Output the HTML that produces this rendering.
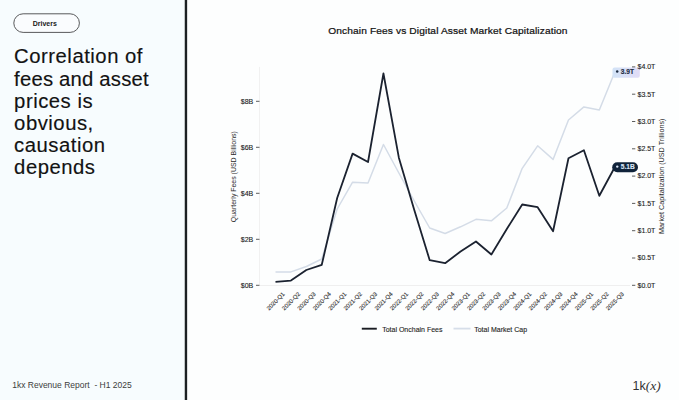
<!DOCTYPE html>
<html><head><meta charset="utf-8"><style>
html,body{margin:0;padding:0;background:#fdfefe;}
body{width:679px;height:400px;overflow:hidden;}
svg{display:block;font-family:"Liberation Sans",sans-serif;}
.h{font-size:19.5px;fill:#121212;letter-spacing:0.5px;stroke:#121212;stroke-width:0.15px;}
.foot{font-size:8.5px;fill:#3c3c3c;}
.title{font-size:9.7px;letter-spacing:0.12px;fill:#111;stroke:#111;stroke-width:0.22px;}
.tick{font-size:7px;fill:#222;stroke:#222;stroke-width:0.12px;}
.xt{font-size:5.9px;fill:#333;stroke:#333;stroke-width:0.12px;}
.al{fill:#2a2a2a;}
.lab{font-size:6.6px;font-weight:bold;stroke-width:0.15px;}
.leg{font-size:7px;fill:#262626;stroke:#262626;stroke-width:0.12px;}
.logo{font-size:12.5px;fill:#333;}
</style></head><body>
<svg width="679" height="400" viewBox="0 0 679 400">
<rect x="0" y="0" width="186" height="400" fill="#f7fcfe"/>
<rect x="184.75" y="0" width="2.4" height="400" fill="#1c2023"/>
<rect x="13.8" y="13.8" width="65.6" height="18.6" rx="9.3" fill="#fafcfe" stroke="#58595b" stroke-width="1"/>
<text x="44.8" y="25.8" font-size="7" font-weight="bold" fill="#1a1a1a" text-anchor="middle">Drivers</text>
<g transform="scale(1.04,1)">
<text x="13.56" y="63.4" class="h">Correlation of</text>
<text x="13.56" y="85.6" class="h" style="letter-spacing:0.2px">fees and asset</text>
<text x="13.56" y="107.8" class="h">prices is</text>
<text x="13.56" y="130.0" class="h">obvious,</text>
<text x="13.56" y="152.2" class="h">causation</text>
<text x="13.56" y="174.4" class="h">depends</text>
</g>
<text x="12.2" y="388.4" class="foot">1kx Revenue Report &#160;- H1 2025</text>
<text transform="translate(447.9,34) scale(1.05,1)" x="0" y="0" class="title" text-anchor="middle">Onchain Fees vs Digital Asset Market Capitalization</text>
<line x1="259.5" y1="66.9" x2="259.5" y2="285" stroke="#f1f1f1" stroke-width="1"/>
<line x1="260" y1="285.5" x2="630" y2="285.5" stroke="#efefef" stroke-width="1"/>
<line x1="256" y1="285.30" x2="259.5" y2="285.30" stroke="#333" stroke-width="0.8"/>
<text x="253.3" y="287.60" class="tick" text-anchor="end">$0B</text>
<line x1="256" y1="239.30" x2="259.5" y2="239.30" stroke="#333" stroke-width="0.8"/>
<text x="253.3" y="241.60" class="tick" text-anchor="end">$2B</text>
<line x1="256" y1="193.30" x2="259.5" y2="193.30" stroke="#333" stroke-width="0.8"/>
<text x="253.3" y="195.60" class="tick" text-anchor="end">$4B</text>
<line x1="256" y1="147.30" x2="259.5" y2="147.30" stroke="#333" stroke-width="0.8"/>
<text x="253.3" y="149.60" class="tick" text-anchor="end">$6B</text>
<line x1="256" y1="101.30" x2="259.5" y2="101.30" stroke="#333" stroke-width="0.8"/>
<text x="253.3" y="103.60" class="tick" text-anchor="end">$8B</text>
<text transform="translate(275.50,301) rotate(-45)" class="xt" text-anchor="middle" dy="2.2">2020-Q1</text>
<text transform="translate(290.92,301) rotate(-45)" class="xt" text-anchor="middle" dy="2.2">2020-Q2</text>
<text transform="translate(306.34,301) rotate(-45)" class="xt" text-anchor="middle" dy="2.2">2020-Q3</text>
<text transform="translate(321.76,301) rotate(-45)" class="xt" text-anchor="middle" dy="2.2">2020-Q4</text>
<text transform="translate(337.18,301) rotate(-45)" class="xt" text-anchor="middle" dy="2.2">2021-Q1</text>
<text transform="translate(352.60,301) rotate(-45)" class="xt" text-anchor="middle" dy="2.2">2021-Q2</text>
<text transform="translate(368.02,301) rotate(-45)" class="xt" text-anchor="middle" dy="2.2">2021-Q3</text>
<text transform="translate(383.44,301) rotate(-45)" class="xt" text-anchor="middle" dy="2.2">2021-Q4</text>
<text transform="translate(398.86,301) rotate(-45)" class="xt" text-anchor="middle" dy="2.2">2022-Q1</text>
<text transform="translate(414.28,301) rotate(-45)" class="xt" text-anchor="middle" dy="2.2">2022-Q2</text>
<text transform="translate(429.70,301) rotate(-45)" class="xt" text-anchor="middle" dy="2.2">2022-Q3</text>
<text transform="translate(445.12,301) rotate(-45)" class="xt" text-anchor="middle" dy="2.2">2022-Q4</text>
<text transform="translate(460.54,301) rotate(-45)" class="xt" text-anchor="middle" dy="2.2">2023-Q1</text>
<text transform="translate(475.96,301) rotate(-45)" class="xt" text-anchor="middle" dy="2.2">2023-Q2</text>
<text transform="translate(491.38,301) rotate(-45)" class="xt" text-anchor="middle" dy="2.2">2023-Q3</text>
<text transform="translate(506.80,301) rotate(-45)" class="xt" text-anchor="middle" dy="2.2">2023-Q4</text>
<text transform="translate(522.22,301) rotate(-45)" class="xt" text-anchor="middle" dy="2.2">2024-Q1</text>
<text transform="translate(537.64,301) rotate(-45)" class="xt" text-anchor="middle" dy="2.2">2024-Q2</text>
<text transform="translate(553.06,301) rotate(-45)" class="xt" text-anchor="middle" dy="2.2">2024-Q3</text>
<text transform="translate(568.48,301) rotate(-45)" class="xt" text-anchor="middle" dy="2.2">2024-Q4</text>
<text transform="translate(583.90,301) rotate(-45)" class="xt" text-anchor="middle" dy="2.2">2025-Q1</text>
<text transform="translate(599.32,301) rotate(-45)" class="xt" text-anchor="middle" dy="2.2">2025-Q2</text>
<text transform="translate(614.74,301) rotate(-45)" class="xt" text-anchor="middle" dy="2.2">2025-Q3</text>
<text transform="translate(236.4,176.7) rotate(-90)" class="al" font-size="6.95" text-anchor="middle">Quarterly Fees (USD Billions)</text>
<text transform="translate(663.6,176.2) rotate(-90)" class="al" font-size="7.2" text-anchor="middle">Market Capitalization (USD Trillions)</text>
<polyline points="275.50,272.10 290.92,271.90 306.34,266.50 321.76,259.00 337.18,209.00 352.60,182.20 368.02,183.00 383.44,144.50 398.86,173.00 414.28,201.00 429.70,228.00 445.12,233.50 460.54,226.80 475.96,219.30 491.38,220.80 506.80,208.00 522.22,168.30 537.64,145.80 553.06,159.40 568.48,120.00 583.90,106.90 599.32,110.00 614.74,72.30" fill="none" stroke="#d4dce7" stroke-width="1.5" stroke-linejoin="round" stroke-linecap="butt"/>
<polyline points="275.50,281.90 290.92,280.60 306.34,270.00 321.76,264.80 337.18,198.00 352.60,153.60 368.02,162.00 383.44,73.50 398.86,157.70 414.28,210.00 429.70,260.20 445.12,263.20 460.54,251.50 475.96,241.50 491.38,254.50 506.80,229.00 522.22,204.50 537.64,207.20 553.06,231.20 568.48,158.30 583.90,150.20 599.32,195.80 614.74,167.30" fill="none" stroke="#1b2230" stroke-width="1.8" stroke-linejoin="round" stroke-linecap="butt"/>
<defs><linearGradient id="lg" x1="0" x2="1"><stop offset="0" stop-color="#d2e3f7"/><stop offset="1" stop-color="#e1dcf6"/></linearGradient></defs>
<rect x="612.5" y="67.5" width="27.3" height="10.3" rx="2" fill="url(#lg)"/>
<circle cx="617.2" cy="71.5" r="1.25" fill="#1b2a40"/>
<text x="620.8" y="74.2" class="lab" fill="#1f2d45" stroke="#1f2d45">3.9T</text>
<rect x="612.2" y="162.3" width="25.8" height="10" rx="5" fill="#10233a"/>
<circle cx="617.25" cy="166.6" r="1.2" fill="#dbe6f6"/>
<text x="620.8" y="169.2" class="lab" fill="#dbe6f6" stroke="#dbe6f6">5.1B</text>
<line x1="632" y1="285.30" x2="635.3" y2="285.30" stroke="#333" stroke-width="0.8"/>
<text x="637.5" y="287.60" class="tick">$0.0T</text>
<line x1="632" y1="258.00" x2="635.3" y2="258.00" stroke="#333" stroke-width="0.8"/>
<text x="637.5" y="260.30" class="tick">$0.5T</text>
<line x1="632" y1="230.70" x2="635.3" y2="230.70" stroke="#333" stroke-width="0.8"/>
<text x="637.5" y="233.00" class="tick">$1.0T</text>
<line x1="632" y1="203.40" x2="635.3" y2="203.40" stroke="#333" stroke-width="0.8"/>
<text x="637.5" y="205.70" class="tick">$1.5T</text>
<line x1="632" y1="176.10" x2="635.3" y2="176.10" stroke="#333" stroke-width="0.8"/>
<text x="637.5" y="178.40" class="tick">$2.0T</text>
<line x1="632" y1="148.80" x2="635.3" y2="148.80" stroke="#333" stroke-width="0.8"/>
<text x="637.5" y="151.10" class="tick">$2.5T</text>
<line x1="632" y1="121.50" x2="635.3" y2="121.50" stroke="#333" stroke-width="0.8"/>
<text x="637.5" y="123.80" class="tick">$3.0T</text>
<line x1="632" y1="94.20" x2="635.3" y2="94.20" stroke="#333" stroke-width="0.8"/>
<text x="637.5" y="96.50" class="tick">$3.5T</text>
<line x1="632" y1="66.90" x2="635.3" y2="66.90" stroke="#333" stroke-width="0.8"/>
<text x="637.5" y="69.20" class="tick">$4.0T</text>
<line x1="361.8" y1="328.7" x2="376.8" y2="328.7" stroke="#1a1c22" stroke-width="1.9"/>
<text x="382.2" y="331.8" class="leg">Total Onchain Fees</text>
<line x1="453.5" y1="328.6" x2="470.5" y2="328.6" stroke="#d6dee9" stroke-width="1.8"/>
<text x="474.2" y="331.8" class="leg">Total Market Cap</text>
<text x="632.6" y="390.3" class="logo">1k<tspan font-family="Liberation Serif" font-style="italic" font-size="13.5">(x)</tspan></text>
</svg>
</body></html>
